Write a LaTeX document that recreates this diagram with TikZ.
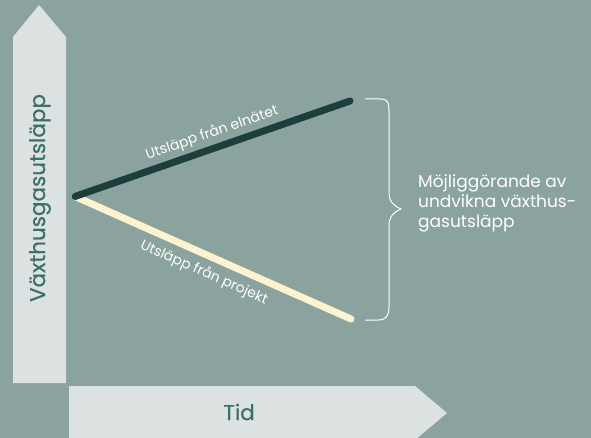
\documentclass[tikz,border=0pt]{standalone}
\usepackage{fontspec}
\setmainfont{Poppins}
\definecolor{bg}{HTML}{8BA39E}
\definecolor{arrowfill}{HTML}{DCE1E1}
\definecolor{tealtext}{HTML}{3A6F6A}
\definecolor{darkline}{HTML}{1C3F3D}
\definecolor{creamline}{HTML}{FDF3CF}
\tikzset{
  axisarrow/.style={fill=arrowfill, draw=none},
  axislabel/.style={text=tealtext, inner sep=0pt, font=\fontsize{21.5}{24}\selectfont\addfontfeatures{FakeBold=0.4}},
  linelabel/.style={text=white, inner sep=0pt, font=\fontsize{14}{16}\selectfont},
  trendline/.style={line width=7pt, line cap=round},
}
\begin{document}
\begin{tikzpicture}[x=1pt,y=-1pt]
\fill[bg] (0,0) rectangle (591,438);
\useasboundingbox (0,0) rectangle (591,438);
% axes
\fill[axisarrow] (13,383) -- (13,37) -- (39,5) -- (66,37) -- (66,383) -- cycle;
\fill[axisarrow] (69,386) -- (415,386) -- (447,413) -- (415,440) -- (69,440) -- cycle;
\node[axislabel, rotate=90] (ylab) at (40,198) {Växthusgasutsläpp};
\node[axislabel] (xlab) at (239,412) {Tid};
% lines
\coordinate (origin) at (75,196.5);
\coordinate (grid) at (350,101);
\coordinate (proj) at (351,319);
\draw[trendline, creamline] (origin) -- (proj);
\draw[trendline, darkline] (origin) -- (grid);
\node[linelabel, rotate=19.06] (lgrid) at (212,133) {Utsläpp från elnätet};
\node[linelabel, rotate=-24] (lproj) at (204,273) {Utsläpp från projekt};
% brace
\coordinate (btop) at (365,99);
\coordinate (bbot) at (365,320);
\coordinate (btip) at (401,209);
\draw[white, line width=1pt] (btop) -- (380,99) .. controls (389,99) and (389,104) .. (389,112)
  -- (389,192) .. controls (389,202) and (394,206) .. (btip)
  .. controls (394,212) and (389,216) .. (389,226)
  -- (389,307) .. controls (389,316) and (386,320) .. (378,320) -- (bbot);
\node[text=white, anchor=west, align=left, inner sep=0pt, font=\fontsize{17}{20}\selectfont] (ann) at (418,203)
  {Möjliggörande av\\undvikna växthus-\\gasutsläpp};
\end{tikzpicture}
\end{document}
